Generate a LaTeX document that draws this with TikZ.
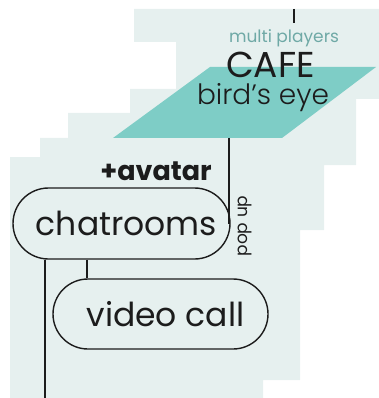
\documentclass[tikz,border=0pt]{standalone}
\usepackage{fontspec}
\setmainfont{Poppins}
\newfontfamily\lightfont{Poppins Light}
\usetikzlibrary{shapes.misc}
\definecolor{panel}{HTML}{E6F0EF}
\definecolor{teal}{HTML}{7ECDC6}
\definecolor{tealtext}{HTML}{6FA9A6}
\definecolor{ink}{HTML}{1C1C1C}
\tikzset{
  wire/.style={draw=ink, line width=1.6pt},
  pill/.style={rounded rectangle, draw=ink, line width=1.4pt, inner sep=0pt,
    text=ink, font=\fontsize{33}{33}\selectfont},
  lbl/.style={inner sep=0pt, text=ink}
}
\begin{document}
\begin{tikzpicture}[x=1pt, y=-1pt]
\useasboundingbox (0,0) rectangle (379,398);
% stepped backdrop
\fill[panel] (134,9) -- (379,9) -- (379,99) -- (356,99) -- (356,165) -- (324,165)
  -- (324,230) -- (300,230) -- (300,380) -- (263,380) -- (263,398) -- (10,398)
  -- (10,157) -- (40,157) -- (40,138) -- (68,138) -- (68,113) -- (130,113)
  -- (130,89) -- (176,89) -- (176,42) -- (134,42) -- cycle;
% bird's eye plane
\fill[teal] (113,138) -- (210,67) -- (376,67) -- (282,138) -- cycle;
\coordinate (planebottom) at (229,138);
\coordinate (entry) at (294,9);
\coordinate (entryend) at (294,23);
\draw[wire] (entry) -- (entryend);
\node[lbl, text=tealtext, font=\fontsize{17}{17}\selectfont, anchor=base] (multi) at (284,43) {multi players};
\node[lbl, font=\fontsize{36}{36}\selectfont, anchor=base] (cafe) at (270.5,78) {CAFE};
\node[lbl, font=\lightfont\fontsize{28}{28}\selectfont, anchor=base] (bird) at (263,105) {bird’s eye};
\node[lbl, font=\bfseries\fontsize{27}{27}\selectfont, anchor=base east] (avatar) at (212,180) {+avatar};
% chat nodes
\node[pill, minimum width=217pt, minimum height=71pt] (chat) at (121.5,223.5) {\hspace*{10pt}chatrooms};
\node[pill, minimum width=215pt, minimum height=70pt] (video) at (160.5,314) {\hspace*{10pt}video call};
\node[lbl, rotate=90, font=\fontsize{17}{17}\selectfont] (popup) at (245,226) {pop up};
% connectors
\draw[wire] (planebottom) -- (planebottom |- chat.east);
\draw[wire] ([xshift=-34.5pt]chat.south) -- ([xshift=-34.5pt]chat.south |- video.north);
\coordinate (exit) at (45,398);
\draw[wire] (exit |- chat.south) -- (exit);
\end{tikzpicture}
\end{document}
